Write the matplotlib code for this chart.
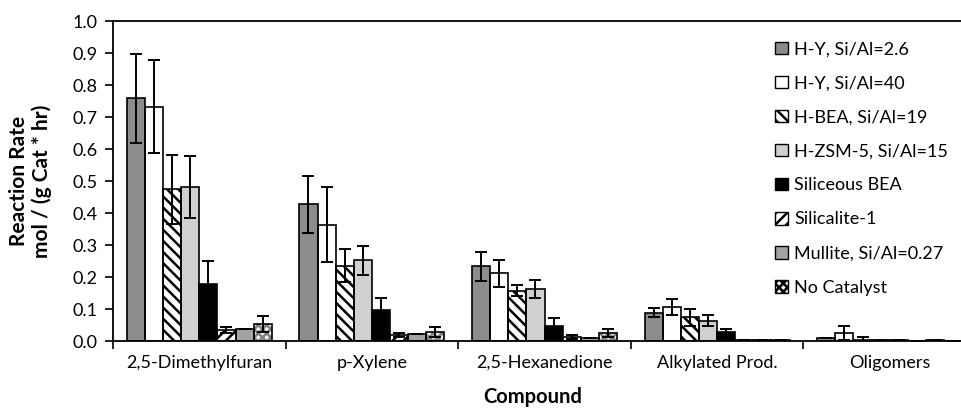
import numpy as np
import matplotlib
matplotlib.use("Agg")
import matplotlib.pyplot as plt
from matplotlib.patches import Patch

compounds = ["2,5-Dimethylfuran", "p-Xylene", "2,5-Hexanedione", "Alkylated Prod.", "Oligomers"]
catalysts = ["H-Y, Si/Al=2.6", "H-Y, Si/Al=40", "H-BEA, Si/Al=19", "H-ZSM-5, Si/Al=15",
             "Siliceous BEA", "Silicalite-1", "Mullite, Si/Al=0.27", "No Catalyst"]

# rates per catalyst, one value per compound
hy26 = [0.758, 0.427, 0.233, 0.089, 0.008]
hy40 = [0.732, 0.364, 0.212, 0.107, 0.025]
hbea = [0.474, 0.235, 0.157, 0.074, 0.003]
zsm5 = [0.481, 0.252, 0.163, 0.063, 0.003]
sibea = [0.177, 0.098, 0.048, 0.028, 0.003]
silicalite = [0.034, 0.018, 0.012, 0.004, 0.0]
mullite = [0.037, 0.021, 0.010, 0.004, 0.003]
nocat = [0.053, 0.028, 0.025, 0.004, 0.0]

hy26_err = [0.14, 0.09, 0.044, 0.013, 0.0]
hy40_err = [0.145, 0.118, 0.042, 0.025, 0.022]
hbea_err = [0.107, 0.052, 0.017, 0.026, 0.010]
zsm5_err = [0.097, 0.046, 0.029, 0.017, 0.0]
sibea_err = [0.072, 0.035, 0.023, 0.010, 0.0]
silicalite_err = [0.009, 0.006, 0.007, 0.0, 0.0]
mullite_err = [0.0, 0.0, 0.0, 0.0, 0.0]
nocat_err = [0.024, 0.016, 0.013, 0.0, 0.0]

values = [hy26, hy40, hbea, zsm5, sibea, silicalite, mullite, nocat]
errors = [hy26_err, hy40_err, hbea_err, zsm5_err, sibea_err, silicalite_err, mullite_err, nocat_err]
faces = ["#8c8c8c", "white", "white", "#d0d0d0", "black", "white", "#a3a3a3", "#f2f2f2"]
hatches = [None, None, "\\\\\\", None, None, "///", None, "xxxx"]
hatch_cols = ["black", "black", "black", "black", "black", "black", "black", "#808080"]

plt.rcParams["font.family"] = ["Lato", "DejaVu Sans"]
plt.rcParams["hatch.linewidth"] = 1.8

fig = plt.figure(figsize=(9.61, 4.09), dpi=100)
ax = fig.add_axes([113 / 961, 1 - 341 / 409, 863 / 961, 320 / 409])

width = 0.105
offset = 0.08
x0 = np.arange(len(compounds))
handles = []
for i, (vals, errs) in enumerate(zip(values, errors)):
    xs = x0 + offset + width * (i + 0.5)
    if hatches[i]:
        ax.bar(xs, vals, width, color=faces[i], hatch=hatches[i],
               edgecolor=hatch_cols[i], linewidth=0, zorder=2)
    else:
        ax.bar(xs, vals, width, color=faces[i], linewidth=0, zorder=2)
    ax.bar(xs, vals, width, fill=False, edgecolor="black", linewidth=1.2, zorder=3)
    ax.errorbar(xs, vals, yerr=errs, fmt="none", ecolor="black", elinewidth=1.4,
                capsize=4, capthick=1.4, zorder=4)
    handles.append(Patch(facecolor=faces[i], hatch=hatches[i], edgecolor="black",
                         linewidth=1.0))

ax.set_xlim(0, len(compounds))
ax.set_ylim(0, 1.0)
ax.set_yticks(np.arange(0, 1.01, 0.1))
ax.set_yticklabels([f"{v:.1f}" for v in np.arange(0, 1.01, 0.1)], fontsize=13)
ax.set_xticks(np.arange(0, len(compounds)))
ax.set_xticklabels([])
ax.set_xticks(x0 + 0.5, minor=True)
ax.set_xticklabels(compounds, minor=True, fontsize=13)
ax.tick_params(axis="x", which="major", direction="out", length=6, width=1.2)
ax.tick_params(axis="x", which="minor", length=0, pad=10)
ax.tick_params(axis="y", direction="out", length=6, width=1.2, pad=5)
for s in ["left", "bottom", "top"]:
    ax.spines[s].set_linewidth(1.3)
ax.spines["right"].set_visible(False)

ax.set_xlabel("Compound", fontsize=14.5, fontweight="bold")
ax.xaxis.set_label_coords((533 - 113) / 863, -0.145)
ax.xaxis.label.set_verticalalignment("top")
ax.set_ylabel("Reaction Rate\nmol / (g Cat * hr)", fontsize=15, fontweight="bold",
              linespacing=1.1)
ax.yaxis.set_label_coords(-0.071, 0.5)

leg = fig.legend(handles, catalysts, loc="upper left", bbox_to_anchor=(768 / 961, 1 - 34 / 409),
                 frameon=False, fontsize=13, handlelength=0.7, handleheight=0.7,
                 handletextpad=0.35, labelspacing=1.0, borderaxespad=0)

fig.savefig("out.png", dpi=100)
